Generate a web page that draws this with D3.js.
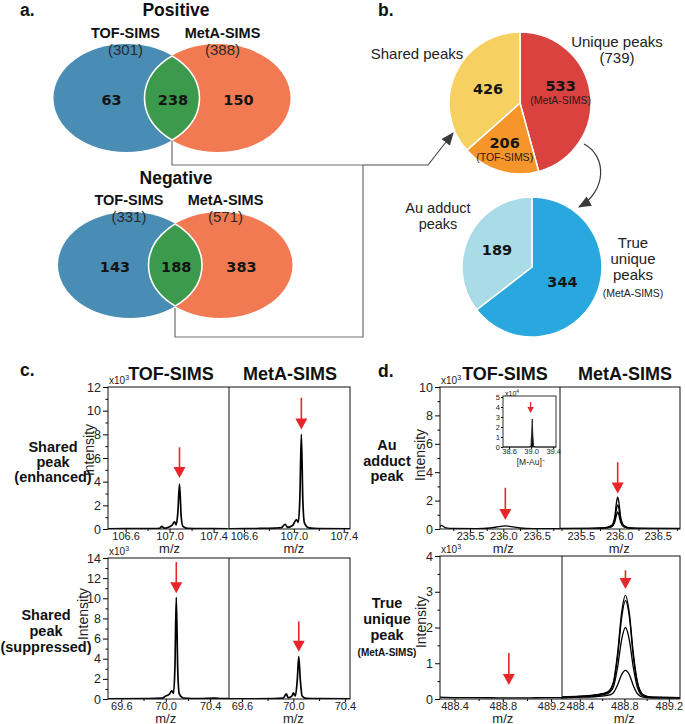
<!DOCTYPE html>
<html>
<head>
<meta charset="utf-8">
<script src="https://cdn.jsdelivr.net/npm/d3@7"></script>
<style>
  body { margin: 0; background: #fff; }
  svg { display: block; font-family: "Liberation Sans", Arial, sans-serif; }
</style>
</head>
<body>
<svg id="fig" width="685" height="724"></svg>
<script>
// ---------- data ----------
// a. Venn counts: [TOF only, shared, MetA only]
const vennNames = ["TOF-SIMS", "MetA-SIMS"];
const posCounts = [63, 238, 150];
const posTotals = [301, 388];
const negCounts = [143, 188, 383];
const negTotals = [331, 571];

// b. pies
const peakValues = [533, 206, 426];          // MetA unique, TOF unique, shared
const peakSubs = ["(MetA-SIMS)", "(TOF-SIMS)", ""];
const uniqueTotal = 739;
const uniqueValues = [344, 189];              // true unique, Au adduct

// c./d. spectra, [m/z, intensity x10^3]
const cEnhTof = [[106.44,0.02],[106.7,0.03],[106.85,0.04],[106.91,0.06],[106.93,0.22],[106.95,0.07],[106.99,0.15],[107.02,0.3],[107.045,0.6],[107.06,0.35],[107.075,1.4],[107.09,3.8],[107.105,1.1],[107.12,0.25],[107.16,0.06],[107.3,0.03],[107.53,0.02]];
const cEnhMeta = [[106.48,0.02],[106.7,0.04],[106.85,0.08],[106.9,0.12],[106.93,0.4],[106.95,0.14],[106.99,0.3],[107.02,0.8],[107.035,0.55],[107.048,2.6],[107.06,8.0],[107.072,2.4],[107.085,0.5],[107.12,0.1],[107.2,0.04],[107.45,0.02]];
const cSupTof = [[69.48,0.02],[69.85,0.03],[69.97,0.08],[70.0,0.3],[70.03,0.45],[70.055,0.8],[70.07,0.55],[70.083,3.2],[70.095,10.1],[70.108,3.0],[70.122,0.5],[70.16,0.1],[70.3,0.04],[70.44,0.08],[70.5,0.04],[70.57,0.03]];
const cSupMeta = [[69.5,0.02],[69.85,0.03],[69.92,0.08],[69.945,0.5],[69.96,0.12],[69.99,0.3],[70.0,0.6],[70.015,0.3],[70.03,1.8],[70.042,4.2],[70.054,1.9],[70.068,0.3],[70.1,0.06],[70.2,0.03],[70.44,0.02]];
const dAuTof = [[235.05,0.12],[235.07,0.25],[235.1,0.18],[235.14,0.08],[235.25,0.04],[235.6,0.03],[235.8,0.07],[235.93,0.16],[236.03,0.22],[236.12,0.17],[236.25,0.07],[236.45,0.03],[236.85,0.02]];
const dAuMeta1 = [[235.23,0.04],[235.6,0.05],[235.8,0.08],[235.9,0.25],[235.94,0.8],[235.965,1.9],[235.98,2.25],[235.995,1.9],[236.02,0.8],[236.06,0.25],[236.15,0.08],[236.4,0.05],[236.79,0.04]];
const dAuMeta2 = [[235.23,0.03],[235.6,0.04],[235.8,0.07],[235.9,0.2],[235.94,0.6],[235.965,1.45],[235.98,1.7],[235.995,1.45],[236.02,0.6],[236.06,0.2],[236.15,0.06],[236.4,0.04],[236.79,0.03]];
const dAuMeta3 = [[235.23,0.02],[235.6,0.03],[235.8,0.05],[235.9,0.15],[235.94,0.45],[235.965,1.0],[235.98,1.2],[235.995,1.0],[236.02,0.45],[236.06,0.15],[236.15,0.05],[236.4,0.03],[236.79,0.02]];
const dTrueTof = [[488.28,0.05],[488.4,0.04],[488.6,0.04],[488.8,0.03],[489.0,0.03],[489.15,0.04],[489.29,0.04]];
const dTrueMeta1 = [[488.24,0.06],[488.4,0.08],[488.55,0.12],[488.65,0.2],[488.7,0.45],[488.74,1.3],[488.775,2.4],[488.81,2.9],[488.845,2.4],[488.88,1.3],[488.92,0.45],[488.97,0.12],[489.05,0.05],[489.3,0.04]];
const dTrueMeta2 = [[488.24,0.05],[488.4,0.07],[488.55,0.11],[488.65,0.18],[488.7,0.42],[488.74,1.2],[488.775,2.25],[488.81,2.75],[488.845,2.3],[488.88,1.2],[488.92,0.4],[488.97,0.1],[489.05,0.05],[489.3,0.04]];
const dTrueMeta3 = [[488.24,0.04],[488.4,0.06],[488.55,0.09],[488.65,0.15],[488.7,0.32],[488.74,0.9],[488.775,1.65],[488.81,2.0],[488.845,1.65],[488.88,0.9],[488.92,0.3],[488.97,0.08],[489.05,0.04],[489.3,0.03]];
const dTrueMeta4 = [[488.24,0.03],[488.4,0.05],[488.55,0.07],[488.65,0.1],[488.7,0.17],[488.74,0.4],[488.775,0.68],[488.81,0.8],[488.845,0.68],[488.88,0.38],[488.92,0.14],[488.97,0.05],[489.05,0.03],[489.3,0.03]];
const insetTrace = [[38.49,0],[38.95,0],[38.995,0.05],[39.01,1.5],[39.02,2.8],[39.03,1.2],[39.045,0.05],[39.1,0],[39.45,0]];

// ticks
const cEnhX = [106.6, 107.0, 107.4], cEnhXMinor = [106.8, 107.2];
const cSupX = [69.6, 70.0, 70.4], cSupXMinor = [69.8, 70.2];
const dAuX = [235.5, 236.0, 236.5], dAuXMinor = [235.25, 235.75, 236.25, 236.75];
const dTrueX = [488.4, 488.8, 489.2], dTrueXMinor = [488.6, 489.0];
const insetX = [38.6, 39.0, 39.4];
const cEnhY = [0, 2, 4, 6, 8, 10, 12], cEnhYMinor = [1, 3, 5, 7, 9, 11];
const cSupY = [0, 2, 4, 6, 8, 10, 12, 14], cSupYMinor = [1, 3, 5, 7, 9, 11, 13];
const dAuY = [0, 2, 4, 6, 8, 10], dAuYMinor = [1, 3, 5, 7, 9];
const dTrueY = [0, 1, 2, 3, 4], dTrueYMinor = [0.5, 1.5, 2.5, 3.5];
const insetY = [0, 1, 2, 3, 4, 5];

// red arrows: peak m/z, arrow start and tip (intensity units)
const cEnhArrows = [{mz: 107.09, from: 6.9, to: 4.3}, {mz: 107.06, from: 11.1, to: 8.4}];
const cSupArrows = [{mz: 70.095, from: 13.6, to: 10.5}, {mz: 70.042, from: 7.7, to: 4.7}];
const dAuArrows = [{mz: 236.03, from: 2.9, to: 0.63}, {mz: 235.98, from: 4.7, to: 2.5}];
const dTrueArrows = [{mz: 488.85, from: 1.29, to: 0.39}, {mz: 488.81, from: 3.6, to: 3.08}];
const insetArrow = [{mz: 38.99, from: 4.5, to: 3.4}];

// ---------- drawing ----------
const svg = d3.select("#fig");
const defs = svg.append("defs");
const RED = "#e8262a";

function txt(x, y, s, o = {}) {
  return svg.append("text")
    .attr("x", x).attr("y", y)
    .attr("text-anchor", o.anchor || "middle")
    .attr("font-size", o.size || 14)
    .attr("font-weight", o.bold ? "bold" : null)
    .attr("font-family", o.family || null)
    .attr("fill", o.fill || "#111")
    .text(s);
}

// panel letters
[["a.", 20, 16], ["b.", 378, 16], ["c.", 20, 376], ["d.", 378, 377]]
  .forEach(d => txt(d[1], d[2], d[0], {anchor: "start", bold: true, size: 17.5}));

// arrowheads for connectors
defs.append("marker").attr("id", "head")
  .attr("viewBox", "0 0 12 10").attr("refX", 11).attr("refY", 5)
  .attr("markerWidth", 13).attr("markerHeight", 11)
  .attr("markerUnits", "userSpaceOnUse").attr("orient", "auto")
  .append("path").attr("d", "M0,0L12,5L0,10z").attr("fill", "#3a3a3a");

// ----- a. Venn diagrams -----
function venn(lay, counts, totals, title) {
  const g = svg.append("g");
  const [bx, ox] = lay.cx;
  const id = "venn" + lay.cy;
  defs.append("clipPath").attr("id", id + "b").append("ellipse")
    .attr("cx", bx).attr("cy", lay.cy).attr("rx", lay.rx).attr("ry", lay.ry);
  defs.append("clipPath").attr("id", id + "o").append("ellipse")
    .attr("cx", ox).attr("cy", lay.cy).attr("rx", lay.rx).attr("ry", lay.ry);
  const ell = (cx) => g.append("ellipse").attr("cx", cx).attr("cy", lay.cy).attr("rx", lay.rx).attr("ry", lay.ry);
  ell(bx).attr("fill", "#4a8db4");
  ell(ox).attr("fill", "#f27a52");
  ell(ox).attr("fill", "#3b9a4b").attr("clip-path", `url(#${id}b)`);
  ell(bx).attr("fill", "none").attr("stroke", "#fff").attr("stroke-width", 1.6).attr("clip-path", `url(#${id}o)`);
  ell(ox).attr("fill", "none").attr("stroke", "#fff").attr("stroke-width", 1.6).attr("clip-path", `url(#${id}b)`);

  txt(lay.titleX, lay.titleY, title, {bold: true, size: 17.5});
  vennNames.forEach((n, i) => {
    const x = lay.cx[i] + [-1, 5][i];
    txt(x, lay.cy - 60, n, {bold: true, size: 14.5});
    txt(x, lay.cy - 43, `(${totals[i]})`, {size: 15, fill: "#2a2a2a"});
  });
  const numX = [bx - 15, (ox - lay.rx + bx + lay.rx) / 2 + 1, ox + 21];
  g.selectAll("text.num").data(counts).join("text")
    .attr("class", "num")
    .attr("x", (d, i) => numX[i]).attr("y", lay.cy + 7)
    .attr("text-anchor", "middle")
    .attr("font-family", "'DejaVu Sans', sans-serif")
    .attr("font-weight", "bold").attr("font-size", 14.5)
    .attr("fill", "#141414")
    .text(d => d);
}

venn({cx: [126.5, 217.5], cy: 98, rx: 73, ry: 54, titleX: 176, titleY: 16}, posCounts, posTotals, "Positive");
venn({cx: [130, 220.5], cy: 265, rx: 72, ry: 53, titleX: 176, titleY: 184}, negCounts, negTotals, "Negative");

// connectors from Venn lenses to the first pie
svg.append("path")
  .attr("d", "M172,141 V165 H363 M175,308 V337 H363 V165")
  .attr("fill", "none").attr("stroke", "#6e6e6e").attr("stroke-width", 1.2);
svg.append("path")
  .attr("d", "M363,165 H428 L453,133")
  .attr("fill", "none").attr("stroke", "#4a4a4a").attr("stroke-width", 1.2)
  .attr("marker-end", "url(#head)");

// ----- b. pies -----
function pie(lay, values, colors, labelR, subs) {
  const arcs = d3.pie().sort(null).value(d => d)(values);
  const arc = d3.arc().innerRadius(0).outerRadius(lay.r);
  const g = svg.append("g").attr("transform", `translate(${lay.cx},${lay.cy})`);
  g.selectAll("path").data(arcs).join("path")
    .attr("d", arc)
    .attr("fill", (d, i) => colors[i])
    .attr("stroke", "#fff").attr("stroke-width", 1.5);
  arcs.forEach((a, i) => {
    const c = d3.arc().innerRadius(labelR[i]).outerRadius(labelR[i]).centroid(a);
    const hasSub = subs && subs[i];
    g.append("text")
      .attr("x", c[0]).attr("y", c[1] + (hasSub ? -7 : 5))
      .attr("text-anchor", "middle")
      .attr("font-family", "'DejaVu Sans', sans-serif")
      .attr("font-weight", "bold").attr("font-size", 14.5)
      .attr("fill", "#141414")
      .text(a.data);
    if (hasSub) {
      g.append("text")
        .attr("x", c[0]).attr("y", c[1] + 6)
        .attr("text-anchor", "middle").attr("font-size", 10.5)
        .attr("fill", "#2a1a1a").text(subs[i]);
    }
  });
}

pie({cx: 520, cy: 103, r: 71}, peakValues, ["#d9423f", "#f5952a", "#f6d061"], [41, 54, 35], peakSubs);
pie({cx: 532, cy: 267, r: 70}, uniqueValues, ["#29a8df", "#a9dce6"], [34, 39], null);

txt(417, 59, "Shared peaks", {size: 15, fill: "#222"});
txt(617, 47, "Unique peaks", {size: 15, fill: "#222"});
txt(617, 63, `(${uniqueTotal})`, {size: 15, fill: "#222"});
txt(438, 213, "Au adduct", {size: 14.5, fill: "#222"});
txt(438, 229, "peaks", {size: 14.5, fill: "#222"});
txt(633, 248, "True", {size: 15, fill: "#222"});
txt(633, 264, "unique", {size: 15, fill: "#222"});
txt(633, 280, "peaks", {size: 15, fill: "#222"});
txt(633, 297, "(MetA-SIMS)", {size: 10.5, fill: "#222"});

// curved arrow between pies
svg.append("path")
  .attr("d", "M584,144 C607,156 607,191 579,207")
  .attr("fill", "none").attr("stroke", "#3a3a3a").attr("stroke-width", 1.2)
  .attr("marker-end", "url(#head)");

// ----- c./d. spectra -----
function drawArrows(g, x, y, arrows, len, half, lw) {
  arrows.forEach(a => {
    const px = x(a.mz), tip = y(a.to);
    g.append("line").attr("x1", px).attr("x2", px)
      .attr("y1", y(a.from)).attr("y2", tip - len + 1)
      .attr("stroke", RED).attr("stroke-width", lw);
    g.append("path")
      .attr("d", `M${px - half},${tip - len} L${px + half},${tip - len} L${px},${tip} Z`)
      .attr("fill", RED);
  });
}

function multiplier(x, y, exp, size) {
  const t = svg.append("text").attr("x", x).attr("y", y)
    .attr("font-size", size).attr("fill", "#222").text("x10");
  t.append("tspan").attr("dy", -size * 0.4).attr("font-size", size * 0.7).text(exp);
}

function spectra(cfg) {
  const g = svg.append("g");
  const y = d3.scaleLinear().domain([0, cfg.yMax]).range([cfg.yBot, cfg.yTop]);
  const fmt = d3.format(".1f");

  cfg.halves.forEach((h, i) => {
    const xr = i === 0 ? [cfg.x0, cfg.x1] : [cfg.x1, cfg.x2];
    const x = d3.scaleLinear().domain(h.domain).range(xr);
    const clipId = cfg.id + "clip" + i;
    defs.append("clipPath").attr("id", clipId).append("rect")
      .attr("x", xr[0]).attr("y", cfg.yTop - 2)
      .attr("width", xr[1] - xr[0]).attr("height", cfg.yBot - cfg.yTop + 2);
    const line = d3.line().x(d => x(d[0])).y(d => y(d[1])).curve(d3.curveMonotoneX);
    g.append("g").attr("clip-path", `url(#${clipId})`)
      .selectAll("path").data(h.traces).join("path")
      .attr("d", line)
      .attr("fill", "none").attr("stroke", "#000")
      .attr("stroke-width", cfg.lw).attr("stroke-linejoin", "round");

    const ax = g.append("g").attr("transform", `translate(0,${cfg.yBot})`)
      .call(d3.axisBottom(x).tickValues(h.ticks).tickSize(3).tickPadding(0).tickFormat(fmt));
    ax.select(".domain").remove();
    ax.selectAll("text").attr("font-size", 11).attr("fill", "#222").attr("font-family", null);
    const axm = g.append("g").attr("transform", `translate(0,${cfg.yBot})`)
      .call(d3.axisBottom(x).tickValues(h.minor).tickSize(2).tickFormat(""));
    axm.select(".domain").remove();

    txt(x(h.ticks[1]), cfg.yBot + 23.5, "m/z", {size: 13, fill: "#222"});
    drawArrows(g, x, y, h.arrows, 11, 6, 1.6);
  });

  const ay = g.append("g").attr("transform", `translate(${cfg.x0},0)`)
    .call(d3.axisLeft(y).tickValues(cfg.yTicks).tickSize(5).tickPadding(2).tickFormat(d3.format("~g")));
  ay.select(".domain").remove();
  ay.selectAll("text").attr("font-size", 12.5).attr("fill", "#222").attr("font-family", null);
  const aym = g.append("g").attr("transform", `translate(${cfg.x0},0)`)
    .call(d3.axisLeft(y).tickValues(cfg.yMinor).tickSize(2.5).tickFormat(""));
  aym.select(".domain").remove();

  // frame and divider
  g.append("rect").attr("x", cfg.x0).attr("y", cfg.yTop)
    .attr("width", cfg.x2 - cfg.x0).attr("height", cfg.yBot - cfg.yTop)
    .attr("fill", "none").attr("stroke", "#111").attr("stroke-width", 1);
  g.append("line").attr("x1", cfg.x1).attr("x2", cfg.x1)
    .attr("y1", cfg.yTop).attr("y2", cfg.yBot)
    .attr("stroke", "#111").attr("stroke-width", 1);

  multiplier(cfg.x0 + 1, cfg.yTop - 3, "3", 10);
  svg.append("text")
    .attr("transform", `translate(${cfg.ylabX},${cfg.ylabY}) rotate(-90)`)
    .attr("text-anchor", "middle").attr("font-size", 14).attr("fill", "#222")
    .text("Intensity");
  cfg.rowLabel.forEach((s, i) => {
    const small = s.startsWith("(MetA");
    txt(cfg.rowX, cfg.rowY[i], s, {bold: true, size: small ? 10 : 14.5});
  });
}

spectra({
  id: "cEnh", x0: 108, x1: 229, x2: 350, yTop: 387, yBot: 529, yMax: 12, lw: 1.7,
  yTicks: cEnhY, yMinor: cEnhYMinor, ylabX: 94, ylabY: 450,
  rowLabel: ["Shared", "peak", "(enhanced)"], rowX: 53, rowY: [452, 467, 482],
  halves: [
    {domain: [106.44, 107.54], ticks: cEnhX, minor: cEnhXMinor, traces: [cEnhTof], arrows: [cEnhArrows[0]]},
    {domain: [106.48, 107.45], ticks: cEnhX, minor: cEnhXMinor, traces: [cEnhMeta], arrows: [cEnhArrows[1]]}
  ]
});
spectra({
  id: "cSup", x0: 108, x1: 229, x2: 350, yTop: 558, yBot: 699, yMax: 14, lw: 1.7,
  yTicks: cSupY, yMinor: cSupYMinor, ylabX: 88, ylabY: 614,
  rowLabel: ["Shared", "peak", "(suppressed)"], rowX: 46, rowY: [620, 636, 652],
  halves: [
    {domain: [69.48, 70.57], ticks: cSupX, minor: cSupXMinor, traces: [cSupTof], arrows: [cSupArrows[0]]},
    {domain: [69.5, 70.44], ticks: cSupX, minor: cSupXMinor, traces: [cSupMeta], arrows: [cSupArrows[1]]}
  ]
});
spectra({
  id: "dAu", x0: 440, x1: 560, x2: 680, yTop: 387, yBot: 529, yMax: 10, lw: 1.3,
  yTicks: dAuY, yMinor: dAuYMinor, ylabX: 425, ylabY: 455,
  rowLabel: ["Au", "adduct", "peak"], rowX: 387, rowY: [450, 466, 481],
  halves: [
    {domain: [235.05, 236.85], ticks: dAuX, minor: dAuXMinor, traces: [dAuTof], arrows: [dAuArrows[0]]},
    {domain: [235.23, 236.79], ticks: dAuX, minor: dAuXMinor, traces: [dAuMeta1, dAuMeta2, dAuMeta3], arrows: [dAuArrows[1]]}
  ]
});
spectra({
  id: "dTrue", x0: 440, x1: 562, x2: 680, yTop: 556, yBot: 699, yMax: 4, lw: 1.3,
  yTicks: dTrueY, yMinor: dTrueYMinor, ylabX: 426, ylabY: 622,
  rowLabel: ["True", "unique", "peak", "(MetA-SIMS)"], rowX: 387, rowY: [608, 624, 640, 656],
  halves: [
    {domain: [488.28, 489.29], ticks: dTrueX, minor: dTrueXMinor, traces: [dTrueTof], arrows: [dTrueArrows[0]]},
    {domain: [488.24, 489.3], ticks: dTrueX, minor: dTrueXMinor, traces: [dTrueMeta1, dTrueMeta2, dTrueMeta3, dTrueMeta4], arrows: [dTrueArrows[1]]}
  ]
});

// column titles
[[171, "TOF-SIMS"], [290, "MetA-SIMS"], [505, "TOF-SIMS"], [625, "MetA-SIMS"]]
  .forEach(d => txt(d[0], 380, d[1], {bold: true, size: 18}));

// ----- inset ([M-Au]-) -----
(function inset() {
  const box = {x0: 503, x1: 556, yTop: 397, yBot: 447};
  const g = svg.append("g");
  const x = d3.scaleLinear().domain([38.49, 39.45]).range([box.x0, box.x1]);
  const y = d3.scaleLinear().domain([0, 5]).range([box.yBot, box.yTop]);
  g.append("rect").attr("x", box.x0).attr("y", box.yTop - 1)
    .attr("width", box.x1 - box.x0).attr("height", box.yBot - box.yTop + 1)
    .attr("fill", "#fff").attr("stroke", "#333").attr("stroke-width", 1);
  g.append("path").datum(insetTrace)
    .attr("d", d3.line().x(d => x(d[0])).y(d => y(d[1])))
    .attr("fill", "#111").attr("stroke", "#111").attr("stroke-width", 0.8);
  const ay = g.append("g").attr("transform", `translate(${box.x0},0)`)
    .call(d3.axisLeft(y).tickValues(insetY).tickSize(2).tickPadding(1).tickFormat(d3.format("d")));
  ay.select(".domain").remove();
  ay.selectAll("text").attr("font-size", 7.5).attr("fill", "#222").attr("font-family", null);
  const ax = g.append("g").attr("transform", `translate(0,${box.yBot})`)
    .call(d3.axisBottom(x).tickValues(insetX).tickSize(2).tickPadding(0).tickFormat(d3.format(".1f")));
  ax.select(".domain").remove();
  ax.selectAll("text").attr("font-size", 7.5).attr("fill", "#222").attr("font-family", null);
  drawArrows(g, x, y, insetArrow, 6, 3.2, 1.2);
  multiplier(box.x0 + 2, box.yTop - 1, "4", 7);
  const lab = svg.append("text").attr("x", 531).attr("y", 465)
    .attr("text-anchor", "middle").attr("font-size", 8.5).attr("fill", "#222").text("[M-Au]");
  lab.append("tspan").attr("dy", -3).attr("font-size", 6).text("−");
})();
</script>
</body>
</html>
